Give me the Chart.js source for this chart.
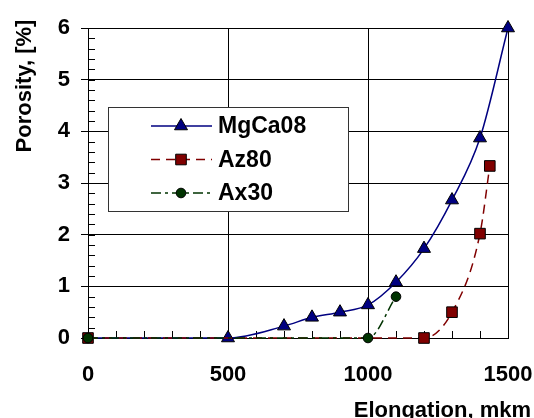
<!DOCTYPE html>
<html>
<head>
<meta charset="utf-8">
<script src="https://cdn.jsdelivr.net/npm/chart.js@4"></script>
<style>
  html, body { margin: 0; padding: 0; background: #fff; }
  #wrap { width: 534px; height: 418px; }
</style>
</head>
<body>
<div id="wrap"><canvas id="porosityChart"></canvas></div>
<script>
// data
const mgX = [0, 500, 700, 800, 900, 1000, 1100, 1200, 1300, 1400, 1500];
const mgY = [0, 0, 0.23, 0.4, 0.5, 0.64, 1.08, 1.73, 2.67, 3.87, 6];
const azX = [0, 1200, 1300, 1400, 1435];
const azY = [0, 0, 0.5, 2.02, 3.33];
const axX = [0, 1000, 1100];
const axY = [0, 0, 0.8];

const seriesNames = ['MgCa08', 'Az80', 'Ax30'];
const xTicks = [0, 500, 1000, 1500];
const yTicks = [0, 1, 2, 3, 4, 5, 6];
const xMinorStep = 100;
const yMinorStep = 0.2;

const FONT = "'Liberation Sans', Arial, sans-serif";

function toPoints(xs, ys) {
    let pts = [];
    for (let i = 0; i < xs.length; i++) {
        pts.push({x: xs[i], y: ys[i]});
    }
    return pts;
}

// small inside ticks on the left and bottom axes
const minorTicks = {
    id: 'minorTicks',
    beforeDatasetsDraw(chart) {
        const ctx = chart.ctx;
        const a = chart.chartArea;
        const x = chart.scales.x, y = chart.scales.y;
        ctx.save();
        ctx.strokeStyle = '#000';
        ctx.lineWidth = 1;
        ctx.beginPath();
        const ny = Math.round((yTicks[yTicks.length - 1] - yTicks[0]) / yMinorStep);
        for (let i = 0; i <= ny; i++) {
            const py = Math.round(y.getPixelForValue(yTicks[0] + i * yMinorStep)) + 0.5;
            ctx.moveTo(a.left, py);
            ctx.lineTo(a.left + 7, py);
        }
        const nx = Math.round((xTicks[xTicks.length - 1] - xTicks[0]) / xMinorStep);
        for (let i = 0; i <= nx; i++) {
            const px = Math.round(x.getPixelForValue(xTicks[0] + i * xMinorStep)) + 0.5;
            ctx.moveTo(px, a.bottom);
            ctx.lineTo(px, a.bottom - 7);
        }
        ctx.stroke();
        ctx.restore();
    }
};

// legend box inside the plot + axis titles
const boxLegend = {
    id: 'boxLegend',
    afterDatasetsDraw(chart) {
        const ctx = chart.ctx;
        ctx.save();
        ctx.fillStyle = '#fff';
        ctx.fillRect(108, 107, 240, 104);
        ctx.strokeStyle = '#333';
        ctx.lineWidth = 1;
        ctx.strokeRect(108.5, 107.5, 240, 104);

        const rows = [126, 159.5, 193];
        seriesNames.forEach((name, i) => {
            const ds = chart.data.datasets.find(d => d.label === name);
            const yy = rows[i];
            ctx.save();
            ctx.strokeStyle = ds.borderColor;
            ctx.lineWidth = ds.borderWidth;
            ctx.setLineDash(ds.borderDash || []);
            ctx.beginPath();
            ctx.moveTo(151, yy);
            ctx.lineTo(212, yy);
            ctx.stroke();
            ctx.restore();

            ctx.save();
            ctx.fillStyle = ds.pointBackgroundColor;
            ctx.strokeStyle = ds.pointBorderColor;
            ctx.lineWidth = 1;
            Chart.helpers.drawPoint(ctx, {pointStyle: ds.pointStyle, radius: ds.legendRadius, rotation: 0, borderWidth: 1}, 181, yy);
            ctx.restore();

            ctx.fillStyle = '#000';
            ctx.font = 'bold 23px ' + FONT;
            ctx.textAlign = 'left';
            ctx.textBaseline = 'middle';
            ctx.fillText(name, 218, yy + 1);
        });
        ctx.restore();
    },
    afterDraw(chart) {
        const ctx = chart.ctx;
        ctx.save();
        ctx.fillStyle = '#000';
        ctx.font = 'bold 22px ' + FONT;
        ctx.textAlign = 'right';
        ctx.textBaseline = 'alphabetic';
        ctx.fillText('Elongation, mkm', 531, 417);

        ctx.translate(31, 86);
        ctx.rotate(-Math.PI / 2);
        ctx.textAlign = 'center';
        ctx.fillText('Porosity, [%]', 0, 0);
        ctx.restore();
    }
};

const ctxChart = document.getElementById('porosityChart').getContext('2d');
new Chart(ctxChart, {
    type: 'line',
    data: {
        datasets: [
            {
                label: 'MgCa08',
                data: toPoints(mgX, mgY),
                borderColor: '#000080',
                borderWidth: 1.5,
                pointStyle: 'triangle',
                pointRadius: c => c.dataIndex === 0 ? 0 : 7.5,
                legendRadius: 7.5,
                pointBackgroundColor: '#000080',
                pointBorderColor: '#000',
                pointBorderWidth: 1,
                cubicInterpolationMode: 'monotone',
                clip: false,
                order: 3
            },
            {
                label: 'Az80',
                data: toPoints(azX, azY),
                borderColor: '#800000',
                borderWidth: 1.5,
                borderDash: [9, 6],
                pointStyle: 'rect',
                pointRadius: 7.5,
                legendRadius: 7.5,
                pointBackgroundColor: '#800000',
                pointBorderColor: '#000',
                pointBorderWidth: 1,
                cubicInterpolationMode: 'monotone',
                clip: false,
                order: 2
            },
            {
                label: 'Ax30',
                data: toPoints(axX, axY),
                borderColor: '#003300',
                borderWidth: 1.5,
                borderDash: [10, 4, 3, 4],
                pointStyle: 'circle',
                pointRadius: 4.8,
                legendRadius: 4.8,
                pointBackgroundColor: '#003300',
                pointBorderColor: '#000',
                pointBorderWidth: 1,
                cubicInterpolationMode: 'monotone',
                clip: false,
                order: 1
            }
        ]
    },
    options: {
        responsive: true,
        maintainAspectRatio: false,
        animation: false,
        layout: { padding: { left: 0, top: 28, right: 26, bottom: 0 } },
        plugins: {
            legend: { display: false },
            tooltip: { enabled: false }
        },
        scales: {
            x: {
                type: 'linear',
                min: 0,
                max: 1500,
                afterBuildTicks: s => { s.ticks = xTicks.map(v => ({value: v})); },
                afterFit: s => { s.height = 80; s.paddingLeft = 0; s.paddingRight = 0; },
                grid: { color: '#000', lineWidth: 1, drawTicks: false },
                border: { color: '#000', width: 1 },
                ticks: {
                    color: '#000',
                    padding: 24,
                    maxRotation: 0,
                    callback: v => String(v),
                    font: { family: FONT, size: 22, weight: 'bold' }
                }
            },
            y: {
                min: 0,
                max: 6,
                afterBuildTicks: s => { s.ticks = yTicks.map(v => ({value: v})); },
                afterFit: s => { s.width = 88; s.paddingTop = 0; s.paddingBottom = 0; },
                grid: { color: '#000', lineWidth: 1, tickLength: 7 },
                border: { color: '#000', width: 1 },
                ticks: {
                    color: '#000',
                    padding: 11,
                    callback: v => String(v),
                    font: { family: FONT, size: 22, weight: 'bold' }
                }
            }
        }
    },
    plugins: [minorTicks, boxLegend]
});
</script>
</body>
</html>
